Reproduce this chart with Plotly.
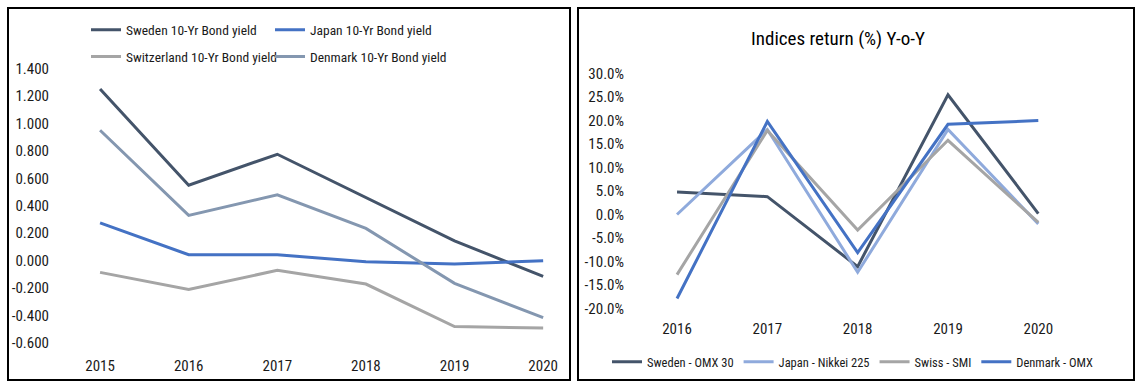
import plotly.graph_objects as go

W, H = 1139, 387
FONT = "Liberation Sans Narrow, Arial Narrow, Roboto Condensed, sans-serif"

# ---- Left chart: 10-Yr bond yields ----
years_bond = ["2015", "2016", "2017", "2018", "2019", "2020"]
sweden_yield = [1.25, 0.55, 0.775, 0.46, 0.145, -0.115]
japan_yield = [0.275, 0.043, 0.043, -0.007, -0.025, 0.0]
swiss_yield = [-0.085, -0.21, -0.07, -0.17, -0.48, -0.49]
denmark_yield = [0.95, 0.33, 0.48, 0.235, -0.165, -0.415]
bond_tickvals = [1.4, 1.2, 1.0, 0.8, 0.6, 0.4, 0.2, 0.0, -0.2, -0.4, -0.6]
bond_ticktext = ["1.400", "1.200", "1.000", "0.800", "0.600", "0.400", "0.200",
                 "0.000", "-0.200", "-0.400", "-0.600"]

# ---- Right chart: indices return ----
years_idx = ["2016", "2017", "2018", "2019", "2020"]
omx30 = [4.8, 3.8, -11.1, 25.5, 0.2]
nikkei = [0.0, 18.1, -12.3, 18.1, -2.0]
smi = [-12.8, 17.9, -3.3, 15.8, -1.7]
omx_dk = [-17.9, 19.8, -8.1, 19.2, 20.0]
idx_tickvals = [30, 25, 20, 15, 10, 5, 0, -5, -10, -15, -20]
idx_ticktext = ["30.0%", "25.0%", "20.0%", "15.0%", "10.0%", "5.0%", "0.0%",
                "-5.0%", "-10.0%", "-15.0%", "-20.0%"]

C_NAVY = "#44546A"
C_BLUE = "#4472C4"
C_GRAY = "#A5A5A5"
C_SLATE = "#8497B0"
C_LIGHT = "#8FAADC"

fig = go.Figure()

def add(x, y, name, color, xa, ya, legend):
    fig.add_trace(go.Scatter(x=x, y=y, name=name, mode="lines",
                             line=dict(color=color, width=3),
                             xaxis=xa, yaxis=ya, legend=legend))

add(years_bond, sweden_yield, "Sweden 10-Yr Bond yield", C_NAVY, "x", "y", "legend")
add(years_bond, japan_yield, "Japan 10-Yr Bond yield", C_BLUE, "x", "y", "legend")
add(years_bond, swiss_yield, "Switzerland 10-Yr Bond yield", C_GRAY, "x", "y", "legend2")
add(years_bond, denmark_yield, "Denmark 10-Yr Bond yield", C_SLATE, "x", "y", "legend2")

add(years_idx, omx30, "Sweden - OMX 30", C_NAVY, "x2", "y2", "legend3")
add(years_idx, nikkei, "Japan - Nikkei 225", C_LIGHT, "x2", "y2", "legend3")
add(years_idx, smi, "Swiss - SMI", C_GRAY, "x2", "y2", "legend3")
add(years_idx, omx_dk, "Denmark - OMX", C_BLUE, "x2", "y2", "legend3")

def px_x(p):
    return p / W

def px_y(p):
    return 1 - p / H

TXT = "#1a1a1a"
tickfont = dict(family=FONT, size=15, color=TXT)

fig.update_layout(
    width=W, height=H,
    margin=dict(l=0, r=0, t=0, b=0),
    paper_bgcolor="white", plot_bgcolor="white",
    font=dict(family=FONT, size=13, color=TXT),
    xaxis=dict(domain=[px_x(50), px_x(560)], anchor="y", type="category",
               range=[-0.565, 5.19], showgrid=False, zeroline=False,
               showline=False, ticks="", tickfont=tickfont),
    yaxis=dict(domain=[px_y(355), px_y(60)], anchor="x",
               range=[-0.688, 1.449], tickvals=bond_tickvals, ticktext=bond_ticktext,
               showgrid=False, zeroline=False, showline=False, ticks="",
               tickfont=tickfont),
    xaxis2=dict(domain=[px_x(625), px_x(1125)], anchor="y2", type="category",
                range=[-0.576, 4.96], showgrid=False, zeroline=False,
                showline=False, ticks="", tickfont=tickfont),
    yaxis2=dict(domain=[px_y(318), px_y(65)], anchor="x2",
                range=[-22.12, 31.48], tickvals=idx_tickvals, ticktext=idx_ticktext,
                showgrid=False, zeroline=False, showline=False, ticks="",
                tickfont=tickfont),
    legend=dict(orientation="h", x=px_x(86), y=px_y(28), xanchor="left", yanchor="middle",
                entrywidth=139, entrywidthmode="pixels", bgcolor="rgba(0,0,0,0)",
                font=dict(family=FONT, size=13.5, color=TXT), itemwidth=30),
    legend2=dict(orientation="h", x=px_x(86), y=px_y(55), xanchor="left", yanchor="middle",
                 entrywidth=139, entrywidthmode="pixels", bgcolor="rgba(0,0,0,0)",
                 font=dict(family=FONT, size=13.5, color=TXT), itemwidth=30),
    legend3=dict(orientation="h", x=px_x(607), y=px_y(362), xanchor="left", yanchor="middle",
                 bgcolor="rgba(0,0,0,0)",
                 font=dict(family=FONT, size=12.5, color=TXT), itemwidth=30),
    shapes=[
        dict(type="rect", xref="paper", yref="paper", x0=px_x(8), x1=px_x(570),
             y0=px_y(380), y1=px_y(6), line=dict(color="black", width=2)),
        dict(type="rect", xref="paper", yref="paper", x0=px_x(578), x1=px_x(1134),
             y0=px_y(380), y1=px_y(6), line=dict(color="black", width=2)),
    ],
    annotations=[
        dict(text="Indices return (%) Y-o-Y", xref="paper", yref="paper",
             x=px_x(838), y=px_y(37), xanchor="center", yanchor="middle",
             showarrow=False, font=dict(family=FONT, size=19, color="#000000")),
    ],
)

fig.write_html("out.html", config={"displayModeBar": False},
               post_script="document.body.style.margin='0px';")
